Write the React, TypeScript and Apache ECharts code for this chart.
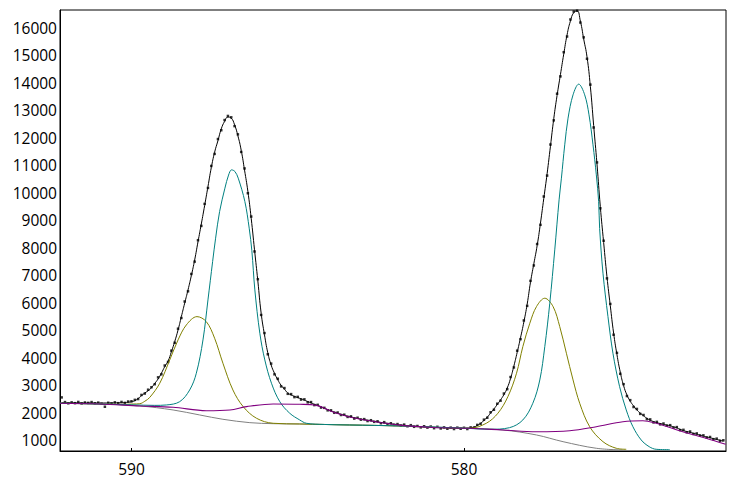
import React, { useEffect, useRef } from "react";
import * as echarts from "echarts";

// Binding-energy sampling of the measured spectrum (eV), 0.1 eV steps from 592.1 down
const DOT_START = 592.1;
const DOT_STEP = 0.1;

// Measured counts (black dots)
const DOTS: number[] = [
  2560, 2390, 2345, 2380, 2350, 2395, 2340, 2375, 2360, 2390,
  2345, 2370, 2330, 2220, 2365, 2340, 2380, 2350, 2395, 2360,
  2410, 2420, 2470, 2500, 2650, 2700, 2840, 2930, 3040, 3290,
  3400, 3720, 3850, 4260, 4550, 5060, 5450, 6050, 6420, 7050,
  7500, 8280, 8800, 9600, 10180, 10980, 11420, 11960, 12280, 12650,
  12800, 12750, 12430, 12130, 11490, 10890, 9990, 9140, 7870, 6860,
  5560, 4900, 4130, 3790, 3400, 3240, 2960, 2900, 2690, 2680,
  2570, 2580, 2480, 2490, 2380, 2390, 2280, 2290, 2190, 2180,
  2090, 2090, 2000, 2010, 1920, 1930, 1850, 1870, 1790, 1820,
  1750, 1770, 1700, 1730, 1670, 1690, 1620, 1660, 1590, 1620,
  1560, 1590, 1530, 1570, 1510, 1550, 1490, 1520, 1470, 1510,
  1460, 1500, 1440, 1490, 1430, 1470, 1420, 1460, 1410, 1460,
  1420, 1455, 1410, 1470, 1460, 1560, 1600, 1750, 1820, 2020,
  2110, 2330, 2440, 2700, 2860, 3300, 3650, 4260, 4680, 5360,
  5890, 6800, 7360, 8140, 8840, 9870, 10630, 11760, 12640, 13610,
  14240, 15120, 15690, 16310, 16600, 16630, 16200, 15660, 14880, 13940,
  12380, 11110, 9440, 8260, 6890, 5960, 4840, 4180, 3420, 3040,
  2610, 2460, 2210, 2140, 1960, 1920, 1770, 1760, 1650, 1670,
  1580, 1610, 1530, 1550, 1460, 1480, 1370, 1380, 1290, 1320,
  1230, 1250, 1170, 1180, 1100, 1120, 1040, 1060, 980, 1000,
];

// Fitted envelope (black line), same energy grid
const ENVELOPE: number[] = [
  2375, 2370, 2368, 2366, 2364, 2362, 2360, 2358, 2357, 2356,
  2356, 2356, 2356, 2357, 2358, 2360, 2362, 2364, 2367, 2372,
  2385, 2400, 2440, 2520, 2620, 2720, 2800, 2910, 3070, 3230,
  3440, 3680, 3880, 4220, 4590, 5010, 5500, 5990, 6470, 6990,
  7560, 8220, 8870, 9540, 10230, 10920, 11480, 11900, 12330, 12600,
  12760, 12720, 12480, 12080, 11550, 10830, 10060, 9080, 7930, 6800,
  5620, 4840, 4180, 3740, 3440, 3200, 3000, 2860, 2720, 2650,
  2600, 2550, 2510, 2460, 2410, 2360, 2310, 2265, 2215, 2165,
  2115, 2070, 2025, 1985, 1945, 1910, 1875, 1850, 1820, 1795,
  1770, 1750, 1730, 1710, 1690, 1670, 1650, 1630, 1615, 1600,
  1585, 1565, 1555, 1545, 1535, 1525, 1515, 1505, 1495, 1488,
  1480, 1475, 1470, 1465, 1460, 1455, 1450, 1446, 1443, 1440,
  1438, 1437, 1440, 1450, 1480, 1540, 1620, 1720, 1840, 1990,
  2140, 2300, 2470, 2660, 2900, 3250, 3700, 4200, 4730, 5300,
  5950, 6750, 7420, 8080, 8900, 9800, 10700, 11700, 12700, 13550,
  14300, 15050, 15750, 16250, 16560, 16620, 16250, 15600, 14950, 13880,
  12450, 11050, 9500, 8200, 6950, 5900, 4900, 4120, 3480, 2990,
  2650, 2420, 2250, 2100, 1990, 1890, 1800, 1730, 1680, 1640,
  1610, 1580, 1555, 1525, 1490, 1450, 1400, 1350, 1320, 1290,
  1255, 1220, 1190, 1150, 1120, 1090, 1060, 1030, 1000, 970,
];

// Main component (teal), [eV, counts]
const TEAL: [number, number][] = [
  [592.15, 2350], [591.0, 2320], [590.0, 2290], [589.3, 2270], [588.95, 2285],
  [588.55, 2405], [588.25, 2831], [588.05, 3439], [587.85, 4651], [587.7, 6107],
  [587.56, 7501], [587.47, 8353], [587.35, 9321], [587.19, 10173], [587.08, 10650],
  [586.99, 10839], [586.89, 10780], [586.79, 10537], [586.59, 9685], [586.46, 8717],
  [586.38, 7900], [586.29, 6471], [586.14, 4895], [585.99, 3923], [585.79, 3075],
  [585.54, 2405], [585.24, 1983], [584.94, 1739], [584.74, 1619], [584.2, 1575],
  [583.44, 1557], [581.93, 1521], [579.93, 1437], [579.23, 1400], [578.63, 1459],
  [578.23, 1739], [577.93, 2347], [577.72, 3195], [577.57, 4407], [577.42, 5987],
  [577.27, 7927], [577.14, 9747], [577.07, 10537], [576.97, 11749], [576.87, 12721],
  [576.72, 13569], [576.55, 13958], [576.37, 13569], [576.24, 12841], [576.12, 11749],
  [576.02, 10657], [575.95, 9685], [575.92, 8700], [575.82, 7079], [575.67, 5499],
  [575.52, 4167], [575.32, 2951], [575.12, 2103], [574.92, 1495], [574.67, 1011],
  [574.43, 767], [574.22, 672], [573.81, 658],
];

// Second component (olive)
const OLIVE: [number, number][] = [
  [592.15, 2350], [591.0, 2320], [590.3, 2305], [589.95, 2320], [589.75, 2330],
  [589.6, 2420], [589.45, 2560], [589.15, 3075], [588.85, 3923], [588.6, 4651],
  [588.35, 5197], [588.03, 5499], [587.75, 5317], [587.5, 4713], [587.25, 3803],
  [586.95, 2831], [586.64, 2223], [586.24, 1801], [585.74, 1619], [584.94, 1593],
  [583.44, 1557], [581.93, 1521], [579.83, 1437], [579.33, 1619], [578.98, 1983],
  [578.68, 2587], [578.42, 3439], [578.23, 4407], [578.02, 5259], [577.82, 5863],
  [577.57, 6169], [577.32, 5863], [577.12, 5135], [576.92, 4167], [576.72, 3195],
  [576.52, 2347], [576.22, 1495], [575.82, 949], [575.42, 709], [575.12, 672],
];

// Satellite component (purple)
const PURPLE: [number, number][] = [
  [592.15, 2347], [590.95, 2321], [589.75, 2249], [588.75, 2201], [587.75, 2077],
  [587.04, 2103], [586.54, 2223], [585.74, 2321], [584.94, 2310], [584.44, 2270],
  [583.94, 2030], [583.44, 1850], [582.93, 1730], [581.93, 1550], [580.93, 1465],
  [579.83, 1437], [578.83, 1375], [577.82, 1313], [576.82, 1349], [576.02, 1495],
  [575.22, 1677], [574.62, 1713], [574.22, 1619], [573.42, 1313], [572.72, 1073],
  [572.13, 854],
];

// Background (gray)
const GRAY: [number, number][] = [
  [592.15, 2347], [590.95, 2321], [589.75, 2249], [588.75, 2103], [587.95, 1921],
  [587.25, 1764], [586.44, 1641], [585.74, 1604], [584.94, 1593], [583.44, 1557],
  [581.93, 1521], [579.93, 1437], [578.83, 1375], [577.82, 1193], [577.02, 949],
  [576.02, 709], [575.22, 647],
];

const X_TICKS = [580, 590];
const Y_TICKS = [1000, 2000, 3000, 4000, 5000, 6000, 7000, 8000, 9000, 10000, 11000, 12000, 13000, 14000, 15000, 16000];

const FONT = "'Open Sans', 'DejaVu Sans', sans-serif";

export default function App() {
  const ref = useRef<HTMLDivElement>(null);

  useEffect(() => {
    if (!ref.current) return;
    const chart = echarts.init(ref.current, null, { renderer: "svg" });
    const energy = (i: number) => +(DOT_START - i * DOT_STEP).toFixed(2);
    const dots = DOTS.map((v, i) => [energy(i), v]);
    const env = ENVELOPE.map((v, i) => [energy(i), v]);

    const lineBase = {
      type: "line" as const,
      showSymbol: false,
      symbol: "none",
      smooth: 0.35,
      silent: true,
    };

    chart.setOption({
      animation: false,
      backgroundColor: "#fff",
      grid: {
        left: 60,
        right: 10,
        top: 10,
        bottom: 28,
        show: true,
        borderColor: "#000",
        borderWidth: 1,
        backgroundColor: "transparent",
      },
      xAxis: {
        type: "value",
        inverse: true,
        min: 572.12,
        max: 592.15,
        axisLine: { show: true, lineStyle: { color: "#000", width: 1 } },
        axisTick: {
          show: true,
          inside: true,
          length: 3,
          customValues: X_TICKS,
          lineStyle: { color: "#000" },
        },
        axisLabel: {
          customValues: X_TICKS,
          formatter: (v: number) => String(v),
          fontSize: 15.5,
          lineHeight: 16,
          color: "#000",
          fontFamily: FONT,
          margin: 10,
        },
        splitLine: { show: false },
      },
      yAxis: {
        type: "value",
        min: 610,
        max: 16655,
        axisLine: { show: true, lineStyle: { color: "#000", width: 1 } },
        axisTick: { show: false },
        axisLabel: {
          customValues: Y_TICKS,
          formatter: (v: number) => String(v),
          fontSize: 15.5,
          color: "#000",
          fontFamily: FONT,
          margin: 3,
        },
        splitLine: { show: false },
      },
      series: [
        { ...lineBase, name: "Envelope", data: env, smooth: true, lineStyle: { color: "#000", width: 1 } },
        { ...lineBase, name: "Background", data: GRAY, lineStyle: { color: "#808080", width: 1 } },
        { ...lineBase, name: "Olive", data: OLIVE, lineStyle: { color: "#808000", width: 1 } },
        { ...lineBase, name: "Teal", data: TEAL, lineStyle: { color: "#008080", width: 1 } },
        { ...lineBase, name: "Satellite", data: PURPLE, lineStyle: { color: "#800080", width: 1.1 } },
        {
          type: "scatter",
          name: "Data",
          data: dots,
          symbol: "rect",
          symbolSize: 2.5,
          itemStyle: { color: "#000" },
          silent: true,
        },
      ],
    });
    return () => chart.dispose();
  }, []);

  return (
    <div
      ref={ref}
      style={{ position: "fixed", left: 0, top: 0, width: 736, height: 479, background: "#fff" }}
    />
  );
}
